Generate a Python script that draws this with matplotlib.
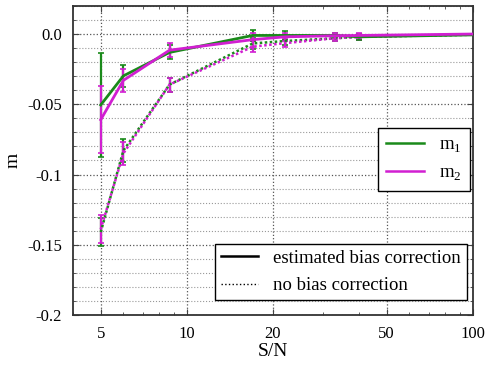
import matplotlib
matplotlib.use("Agg")
import matplotlib.pyplot as plt
from matplotlib.ticker import FixedLocator, FixedFormatter, MultipleLocator, NullFormatter
from matplotlib.lines import Line2D

plt.rcParams['font.family'] = ['Liberation Serif', 'DejaVu Serif']
plt.rcParams['mathtext.fontset'] = 'custom'
plt.rcParams['mathtext.rm'] = 'Liberation Serif'

snr = [5, 6, 8.7, 17, 22, 33, 40, 100]

m1_corr = [-0.0505, -0.0298, -0.0131, -0.001, -0.001, -0.001, -0.002, -0.0006]
m1_corr_err = [0.037, 0.008, 0.005, 0.004, 0.003, 0.002, 0.002, 0.001]
m2_corr = [-0.061, -0.033, -0.0115, -0.004, -0.002, -0.0012, -0.001, 0.0]
m2_corr_err = [0.024, 0.008, 0.005, 0.005, 0.003, 0.002, 0.002, 0.001]

m1_raw = [-0.141, -0.083, -0.036, -0.0067, -0.005, -0.003, -0.002, -0.0005]
m1_raw_err = [0.010, 0.008, 0.005, 0.004, 0.003, 0.002, 0.002, 0.001]
m2_raw = [-0.139, -0.085, -0.036, -0.009, -0.0065, -0.003, -0.002, -0.0002]
m2_raw_err = [0.010, 0.008, 0.005, 0.004, 0.003, 0.002, 0.002, 0.001]

green = '#1a8a1a'
magenta = '#d11fd1'

fig = plt.figure(figsize=(4.91, 3.71), dpi=100)
ax = fig.add_axes([0.1487, 0.151, 0.8143, 0.833])

def eb(x, y, e, c, ls):
    ax.errorbar(x[:-1], y[:-1], yerr=e[:-1], color=c, ls='none', lw=1.6, capsize=2.5, capthick=1.2, zorder=3)
    if ls == '-':
        ax.plot(x, y, color=c, ls='-', lw=2.0, zorder=4)
    else:
        ax.plot(x, y, color=c, ls=(0, (1, 1)), lw=1.8, zorder=4)

eb(snr, m1_raw, m1_raw_err, green, ':')
eb(snr, m2_raw, m2_raw_err, magenta, ':')
eb(snr, m1_corr, m1_corr_err, green, '-')
eb(snr, m2_corr, m2_corr_err, magenta, '-')

ax.set_xscale('log')
ax.set_xlim(4, 100)
ax.set_ylim(-0.2, 0.02)

xt = [5, 10, 20, 50, 100]
ax.xaxis.set_major_locator(FixedLocator(xt))
ax.xaxis.set_major_formatter(FixedFormatter([str(v) for v in xt]))
ax.xaxis.set_minor_locator(FixedLocator([4, 6, 7, 8, 9, 30, 40, 60, 70, 80, 90]))
ax.xaxis.set_minor_formatter(NullFormatter())

yt = [0.0, -0.05, -0.1, -0.15, -0.2]
ax.yaxis.set_major_locator(FixedLocator(yt))
ax.yaxis.set_major_formatter(FixedFormatter(['0.0', '-0.05', '-0.1', '-0.15', '-0.2']))
ax.yaxis.set_minor_locator(MultipleLocator(0.01))

ax.grid(True, which='major', axis='both', ls=':', color='#555555', lw=0.9)
ax.grid(True, which='minor', axis='y', ls=':', color='#999999', lw=0.8)
ax.tick_params(which='both', direction='in', top=True, right=True, labelsize=12, color='#444444')
ax.tick_params(which='major', length=4, pad=8)
ax.tick_params(which='minor', length=2)
for s in ax.spines.values():
    s.set_linewidth(1.3)
    s.set_color('#333333')

ax.set_xlabel('S/N', fontsize=14, labelpad=1)
ax.set_ylabel('m', fontsize=14, labelpad=4)

h1 = [Line2D([], [], color=green, lw=1.8), Line2D([], [], color=magenta, lw=1.8)]
leg1 = ax.legend(h1, [r'$\mathrm{m}_1$', r'$\mathrm{m}_2$'], loc='upper right',
                 bbox_to_anchor=(0.9925, 0.605), fontsize=13.5, fancybox=False,
                 edgecolor='black', framealpha=1, handlelength=2.0, borderpad=0.45,
                 borderaxespad=0.0, labelspacing=0.5)
leg1.get_frame().set_linewidth(1.0)
ax.add_artist(leg1)

h2 = [Line2D([], [], color='black', lw=1.8), Line2D([], [], color='black', lw=1.0, ls=':')]
leg2 = ax.legend(h2, ['estimated bias correction', 'no bias correction'], loc='lower right',
                 bbox_to_anchor=(0.985, 0.049), fontsize=13.5, fancybox=False,
                 edgecolor='black', framealpha=1, handlelength=2.0, borderpad=0.3,
                 borderaxespad=0.0, labelspacing=0.55)
leg2.get_frame().set_linewidth(1.0)

fig.savefig('out.png', dpi=100)
